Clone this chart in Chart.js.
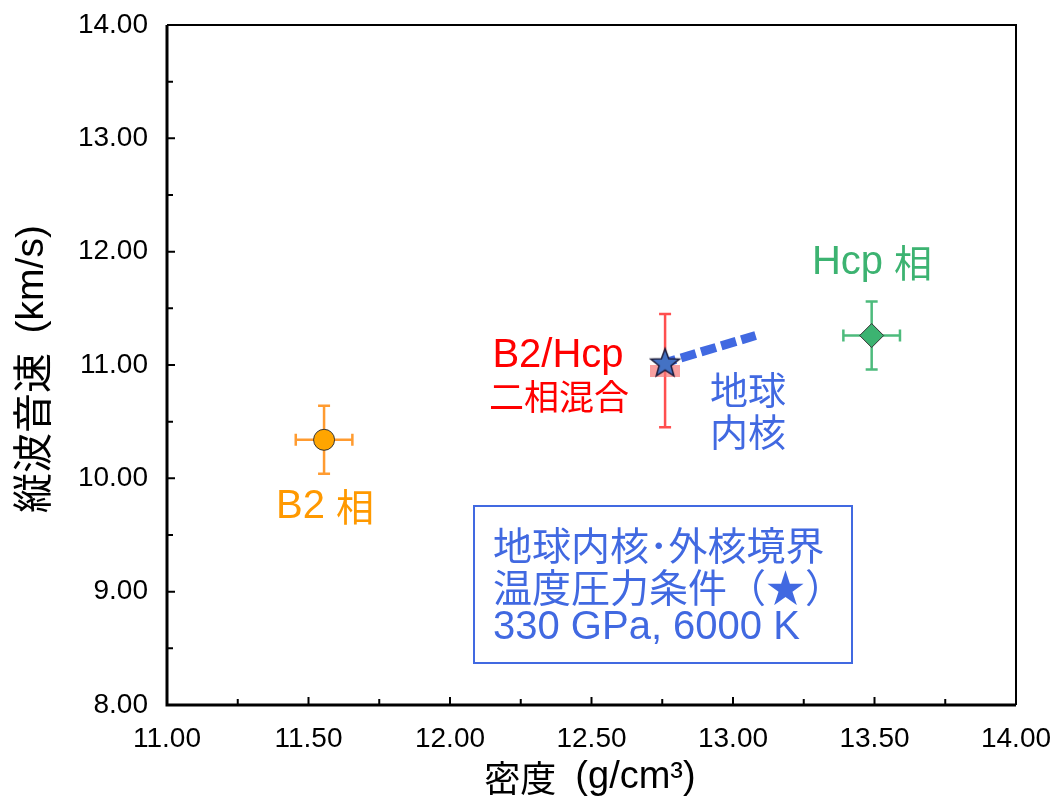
<!DOCTYPE html>
<html>
<head>
<meta charset="utf-8">
<script src="https://cdn.jsdelivr.net/npm/chart.js@4.4.0/dist/chart.umd.min.js"></script>
<style>
  html, body { margin: 0; padding: 0; background: #fff; }
  #wrap { width: 1055px; height: 799px; }
</style>
</head>
<body>
<div id="wrap"><canvas id="chart"></canvas></div>
<script>
// phases: B2, B2/Hcp mixture, Hcp
var densities   = [11.555, 12.76, 13.49];    // g/cm3
var velocities  = [10.34, 10.95, 11.26];     // km/s
var densityErr  = [0.10, 0.00, 0.10];
var velocityErr = [0.30, 0.50, 0.30];

// inner core: boundary (star) to centre, dashed blue line
var coreDensity  = [12.76, 13.08];
var coreVelocity = [11.02, 11.26];

var xTickValues = [11.00, 11.50, 12.00, 12.50, 13.00, 13.50, 14.00];
var yTickValues = [8.00, 9.00, 10.00, 11.00, 12.00, 13.00, 14.00];

var fontLatin = '"Liberation Sans", Arial, sans-serif';
var fontCJK = '"Noto Sans CJK JP", "Noto Sans CJK SC", sans-serif';

function toPoints(xs, ys) {
    return xs.map(function (x, i) { return { x: x, y: ys[i] }; });
}

// latin and japanese runs get their own font size, like the original
function drawMixed(ctx, text, x, y, align, latinPx, cjkPx) {
    var re = /[\u2E80-\u9FFF\u3000-\u303F\uFF00-\uFFEF\u2605]/;
    var runs = [];
    for (var ch of text) {
        var cjk = re.test(ch);
        if (runs.length && runs[runs.length - 1].cjk === cjk) runs[runs.length - 1].t += ch;
        else runs.push({ t: ch, cjk: cjk });
    }
    var total = 0;
    runs.forEach(function (r) {
        r.font = r.cjk ? cjkPx + 'px ' + fontCJK : latinPx + 'px ' + fontLatin;
        ctx.font = r.font;
        r.w = ctx.measureText(r.t).width;
        total += r.w;
    });
    var sx = align === 'center' ? x - total / 2 : (align === 'right' ? x - total : x);
    ctx.textAlign = 'left';
    runs.forEach(function (r) {
        ctx.font = r.font;
        ctx.fillText(r.t, sx, y);
        sx += r.w;
    });
}

// filled five point star (inner/outer core boundary)
function makeStar(r) {
    var c = document.createElement('canvas');
    var s = Math.ceil(r * 2 + 4);
    c.width = s; c.height = s;
    var g = c.getContext('2d');
    g.beginPath();
    for (var i = 0; i < 10; i++) {
        var rr = i % 2 ? r * 0.42 : r;
        var a = -Math.PI / 2 + i * Math.PI / 5;
        g.lineTo(s / 2 + rr * Math.cos(a), s / 2 + 1 + rr * Math.sin(a));
    }
    g.closePath();
    g.fillStyle = '#4472C4';
    g.fill();
    g.lineWidth = 1.5;
    g.strokeStyle = '#1b1b3a';
    g.stroke();
    return c;
}

// flat pink box used as the mixture marker
function makeBox(w, h) {
    var c = document.createElement('canvas');
    c.width = w; c.height = h;
    var g = c.getContext('2d');
    g.fillStyle = 'rgba(245, 120, 120, 0.7)';
    g.fillRect(0, 0, w, h);
    return c;
}

var barColors = ['#FF9B30', '#FF4F4F', '#4DBB7C'];

var decorPlugin = {
    id: 'decor',
    beforeDatasetsDraw: function (chart) {
        var ctx = chart.ctx, xs = chart.scales.x, ys = chart.scales.y;
        ctx.save();
        ctx.lineWidth = 2.5;
        densities.forEach(function (d, i) {
            var px = xs.getPixelForValue(d), py = ys.getPixelForValue(velocities[i]);
            ctx.strokeStyle = barColors[i];
            ctx.beginPath();
            if (velocityErr[i] > 0) {
                var t = ys.getPixelForValue(velocities[i] + velocityErr[i]);
                var b = ys.getPixelForValue(velocities[i] - velocityErr[i]);
                ctx.moveTo(px, t); ctx.lineTo(px, b);
                ctx.moveTo(px - 6, t); ctx.lineTo(px + 6, t);
                ctx.moveTo(px - 6, b); ctx.lineTo(px + 6, b);
            }
            if (densityErr[i] > 0) {
                var l = xs.getPixelForValue(d - densityErr[i]);
                var r = xs.getPixelForValue(d + densityErr[i]);
                ctx.moveTo(l, py); ctx.lineTo(r, py);
                ctx.moveTo(l, py - 6); ctx.lineTo(l, py + 6);
                ctx.moveTo(r, py - 6); ctx.lineTo(r, py + 6);
            }
            ctx.stroke();
        });
        ctx.restore();
    },
    afterDraw: function (chart) {
        var ctx = chart.ctx, a = chart.chartArea;
        var xs = chart.scales.x, ys = chart.scales.y;
        ctx.save();
        // frame
        ctx.strokeStyle = '#000';
        ctx.lineWidth = 2;
        ctx.beginPath();
        ctx.moveTo(a.left, a.top); ctx.lineTo(a.right, a.top); ctx.lineTo(a.right, a.bottom);
        ctx.stroke();
        ctx.lineWidth = 3;
        ctx.beginPath();
        ctx.moveTo(a.left, a.top); ctx.lineTo(a.left, a.bottom); ctx.lineTo(a.right, a.bottom);
        ctx.stroke();
        // inward ticks, major + minor
        ctx.lineWidth = 2;
        ctx.beginPath();
        for (var i = 0; i < xTickValues.length; i++) {
            var px = xs.getPixelForValue(xTickValues[i]);
            ctx.moveTo(px, a.bottom); ctx.lineTo(px, a.bottom - 8);
            if (i < xTickValues.length - 1) {
                var mx = xs.getPixelForValue((xTickValues[i] + xTickValues[i + 1]) / 2);
                ctx.moveTo(mx, a.bottom); ctx.lineTo(mx, a.bottom - 6);
            }
        }
        for (var j = 0; j < yTickValues.length; j++) {
            var py = ys.getPixelForValue(yTickValues[j]);
            ctx.moveTo(a.left, py); ctx.lineTo(a.left + 8, py);
            if (j < yTickValues.length - 1) {
                var my = ys.getPixelForValue((yTickValues[j] + yTickValues[j + 1]) / 2);
                ctx.moveTo(a.left, my); ctx.lineTo(a.left + 6, my);
            }
        }
        ctx.stroke();

        // axis titles
        ctx.fillStyle = '#000';
        ctx.textBaseline = 'middle';
        drawMixed(ctx, '密度\u2002(g/cm³)', 590, 778, 'center', 38, 36);
        ctx.save();
        ctx.translate(32, 369);
        ctx.rotate(-Math.PI / 2);
        drawMixed(ctx, '縦波音速\u2002(km/s)', 0, 0, 'center', 39, 40);
        ctx.restore();

        // labels
        ctx.fillStyle = '#3CB371';
        drawMixed(ctx, 'Hcp 相', 872, 263, 'center', 40, 38);
        ctx.fillStyle = '#FF9900';
        drawMixed(ctx, 'B2 相', 325, 507, 'center', 40, 38);
        ctx.fillStyle = '#FF0000';
        drawMixed(ctx, 'B2/Hcp', 558, 356, 'center', 40, 35);
        drawMixed(ctx, '二相混合', 559, 397, 'center', 40, 35);
        ctx.fillStyle = '#4169E1';
        drawMixed(ctx, '地球', 748, 390, 'center', 40, 38);
        drawMixed(ctx, '内核', 748, 432, 'center', 40, 38);

        // condition box
        ctx.strokeStyle = '#4169E1';
        ctx.lineWidth = 2;
        ctx.strokeRect(474, 506, 378, 157);
        drawMixed(ctx, '地球内核･外核境界', 493, 545, 'left', 40, 39);
        drawMixed(ctx, '温度圧力条件（★）', 493, 587, 'left', 40, 39);
        drawMixed(ctx, '330 GPa, 6000 K', 493, 628, 'left', 40, 39);
        ctx.restore();
    }
};

var ctx = document.getElementById('chart').getContext('2d');
var chart = new Chart(ctx, {
    type: 'scatter',
    data: {
        datasets: [{
            label: 'phases',
            data: toPoints(densities, velocities),
            pointStyle: ['circle', makeBox(30, 12), 'rectRot'],
            pointRadius: [10.5, 15, 12],
            pointHoverRadius: [10.5, 15, 12],
            backgroundColor: ['#FFA500', 'rgba(0,0,0,0)', '#3CB371'],
            borderColor: '#333',
            borderWidth: 1,
            order: 1
        }, {
            type: 'line',
            label: 'inner core',
            data: toPoints(coreDensity, coreVelocity),
            borderColor: '#4169E1',
            borderWidth: 9,
            borderDash: [15.5, 5.5],
            borderDashOffset: 4.4,
            borderCapStyle: 'butt',
            pointStyle: [makeStar(15), 'circle'],
            pointRadius: [15, 0],
            pointHoverRadius: [15, 0],
            order: 0
        }]
    },
    options: {
        responsive: true,
        maintainAspectRatio: false,
        animation: false,
        layout: { padding: { top: 25, right: 39, left: 0, bottom: 0 } },
        plugins: { legend: { display: false }, tooltip: { enabled: false } },
        scales: {
            x: {
                type: 'linear',
                min: 11, max: 14,
                afterBuildTicks: function (s) { s.ticks = xTickValues.map(function (v) { return { value: v }; }); },
                afterFit: function (s) { s.height = 94; s.paddingLeft = 0; s.paddingRight = 0; },
                grid: { display: false, drawTicks: false },
                border: { display: false },
                ticks: {
                    padding: 17,
                    color: '#000',
                    font: { family: fontLatin, size: 28 },
                    maxRotation: 0,
                    callback: function (v) { return Number(v).toFixed(2); }
                }
            },
            y: {
                type: 'linear',
                min: 8, max: 14,
                afterBuildTicks: function (s) { s.ticks = yTickValues.map(function (v) { return { value: v }; }); },
                afterFit: function (s) { s.width = 167; s.paddingTop = 0; s.paddingBottom = 0; },
                grid: { display: false, drawTicks: false },
                border: { display: false },
                ticks: {
                    padding: 19,
                    color: '#000',
                    font: { family: fontLatin, size: 28 },
                    callback: function (v) { return Number(v).toFixed(2); }
                }
            }
        }
    },
    plugins: [decorPlugin]
});
</script>
</body>
</html>
